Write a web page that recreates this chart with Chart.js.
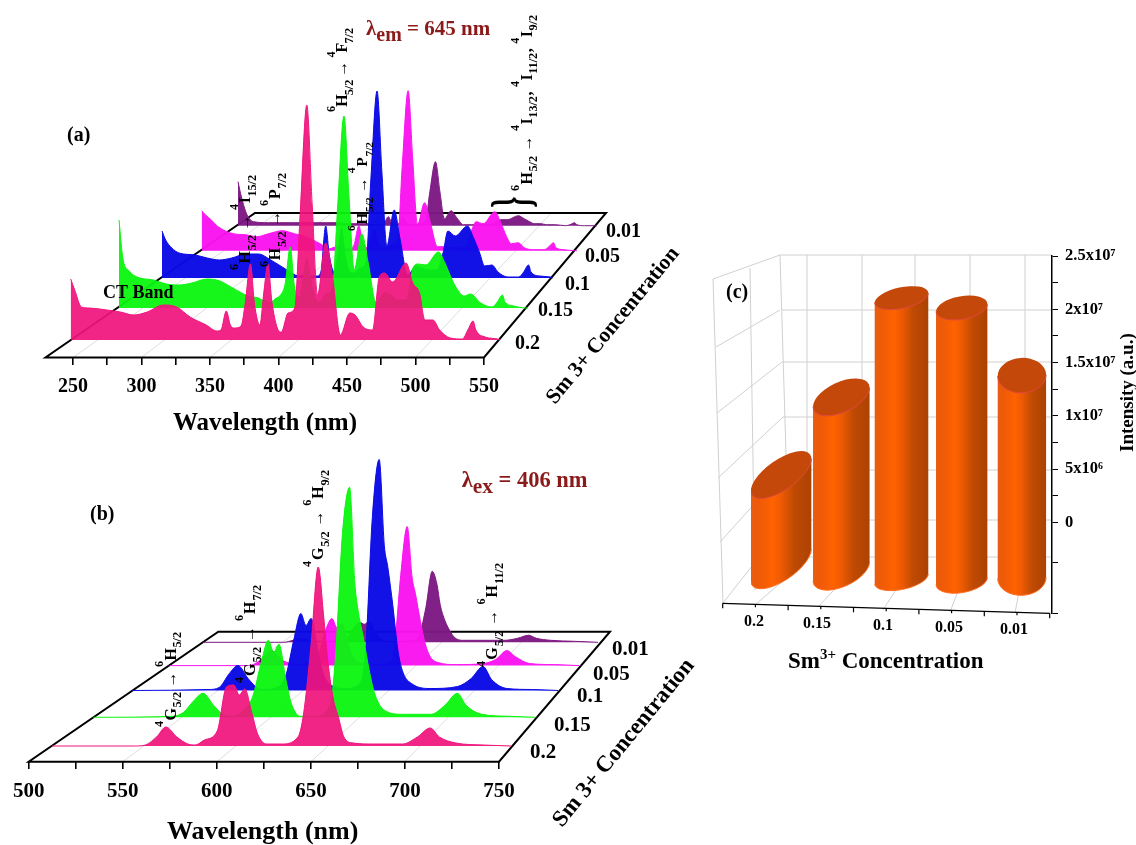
<!DOCTYPE html>
<html><head><meta charset="utf-8">
<style>html,body{margin:0;padding:0;background:#fff;overflow:hidden}
canvas{position:absolute;left:0;top:0}</style>
<script src="https://cdn.jsdelivr.net/npm/chart.js@4"></script>
</head><body>
<canvas id="spectra" width="1136" height="845"></canvas>
<canvas id="bars" width="1136" height="845"></canvas>
<script>
// ---------- DATA ----------
const concentrations = ['0.2','0.15','0.1','0.05','0.01'];
// panel (a): excitation spectra
const lambdaA = [230,233,238,244,257,267,277,287,299,309,319,331,339,342,346,349,352,357,360,364,367,371,374,377,380,384,387,392,397,401,406,410,414,420,425,431,438,442,448,455,460,464,470,480,485,490,494,500,505,513,522,526,530,532,539,548,550];
const excite_02  = [61,50,33,32,30,28,25,28,35,33,23,15,9,10,29,15,12,14,36,76,36,15,48,76,38,12,8,27,32,125,235,135,45,97,65,5,27,25,13,10,63,67,58,77,57,47,20,20,10,2,1,10,19,10,3,1,0];
const excite_015 = [88,50,37,31,28,24,23,25,29,27,20,12,10,8,7,6,9,14,24,61,24,10,28,50,28,8,6,14,20,100,192,110,38,74,45,6,15,14,8,8,40,44,43,56,45,30,20,12,14,5,1,6,13,6,2,0,0];
const excite_01  = [47,38,30,25,23,20,18,20,24,24,18,9,3,2,3,2,2,2,6,52,22,6,25,50,22,6,5,10,16,100,187,105,32,68,38,3,12,10,8,8,25,47,42,52,40,25,12,13,6,1,1,6,13,6,2,1,0];
const excite_005 = [40,36,31,24,17,16,14,17,20,17,14,7,2,3,4,2,2,2,6,25,10,3,12,22,10,3,3,6,10,85,160,90,26,48,28,4,4,3,3,3,20,29,27,39,28,14,7,8,3,1,1,4,8,3,1,0,0];
const excite_001 = [44,29,11,4,3,3,3,3,3,3,3,2,2,2,2,1,1,1,2,9,3,1,3,8,3,1,1,2,4,34,64,34,7,15,8,1,1,1,1,1,4,6,6,10,7,4,2,2,1,1,0,1,3,1,0,0,0];
const ticksA = [250,275,300,325,350,375,400,425,450,475,500,525,550];
// panel (b): emission spectra
const lambdaB = [500,545,551,557,562,568,574,578,583,590,595,599,602,605,609,612,617,625,634,637,641,645,648,650,653,656,659,664,675,691,699,706,711,720,735,750];
const emit_02  = [0,0,1,9,19,9,2,1,6,15,59,61,51,57,32,12,2,2,9,32,99,179,129,89,49,29,9,3,2,2,9,18,9,3,1,0];
const emit_015 = [0,1,5,17,24,12,2,1,4,20,55,77,65,73,37,14,1,1,12,60,184,230,134,105,78,48,25,8,3,3,12,24,12,3,1,0];
const emit_01  = [0,1,3,17,25,12,2,1,2,14,52,77,65,72,40,18,5,2,8,40,174,231,145,124,85,40,18,7,2,4,12,24,11,2,1,0];
const emit_005 = [0,0,1,8,15,6,2,1,2,8,35,47,38,42,20,8,2,1,3,15,90,139,88,72,45,22,9,3,1,2,6,15,9,2,1,0];
const emit_001 = [0,0,0,2,4,2,1,1,1,3,14,20,18,21,10,4,1,1,2,8,35,71,58,38,22,12,5,2,2,2,4,7,4,2,1,0];
const ticksB = [500,525,550,575,600,625,650,675,700,725,750];
// panel (c): integrated intensity, cylinder base and top read on the axis
const cylinderBase = [-4.0e6,-4.6e6,-5.3e6,-5.5e6,-5.2e6];
const cylinderTop  = [4.47e6,11.76e6,21.07e6,20.14e6,13.8e6];
const intensityTicks  = [2.5e7,2.25e7,2e7,1.75e7,1.5e7,1.25e7,1e7,7.5e6,5e6,2.5e6,0,-3.8e6,-8.5e6];
const intensityLabels = ['2.5x10⁷','','2x10⁷','','1.5x10⁷','','1x10⁷','','5x10⁶','','0','',''];

// ---------- STYLE / LAYOUT ----------
const W=1136,H=845,SERIF='"Liberation Serif"';
const colours=['rgba(240,20,125,.93)','rgba(10,245,15,.95)','rgba(10,10,230,.97)','rgba(250,20,240,.97)','rgba(125,25,130,.97)'];
const solid=['#f0147d','#0af50f','#0a0ae6','#fa14f0','#7d1982'];
const planesA=[{y:340,x0:70.7,x1:500},{y:308,x0:119,x1:528},{y:278,x0:162,x1:553},{y:250.7,x0:201.7,x1:577},{y:225.7,x0:238,x1:597}];
const planesB=[{y:746,x0:52,x1:511},{y:717.3,x0:93.5,x1:535},{y:690.5,x0:132.3,x1:558},{y:665.6,x0:170,x1:579},{y:642.3,x0:203.3,x1:598}];
const floorA={front:{y:357.5,x0:45.5,x1:484},back:{y:213,x0:255,x1:606}};
const floorB={front:{y:761.7,x0:28.7,x1:499},back:{y:631.7,x0:218.3,x1:610}};

function xRange(v0,v1,p0,p1){const k=(v1-v0)/(p1-p0);return {min:v0-p0*k,max:v0+(W-p0)*k};}
function yRange(base){return {min:-(H-base),max:base};}
function hidden(r){return Object.assign({type:'linear',display:false},r);}
function frontAxis(r,py,vals,size,pad){return Object.assign({type:'linear',position:{yPage:py},
  border:{display:false},
  grid:{drawOnChartArea:false,drawTicks:true,tickLength:7,color:'#000',lineWidth:1.6},
  ticks:{autoSkip:false,maxRotation:0,color:'#000',padding:pad,font:{family:SERIF,weight:'bold',size:size},
    callback:v=>v%50===0?String(v):''},
  afterBuildTicks:s=>{s.ticks=vals.map(v=>({value:v}));}},r);}

const scales={yPage:{type:'linear',display:false,min:0,max:H,reverse:true}};
const datasets=[];
function addTraces(tag,lam,series,planes){
  const a=lam[0],b=lam[lam.length-1];
  series.forEach((vals,i)=>{
    const p=planes[i];
    scales['x'+tag+i]=hidden(xRange(a,b,p.x0,p.x1));
    scales['y'+tag+i]=hidden(yRange(p.y));
    datasets.push({type:'line',label:concentrations[i],xAxisID:'x'+tag+i,yAxisID:'y'+tag+i,
      data:lam.map((l,j)=>({x:l,y:vals[j]})),fill:'origin',backgroundColor:colours[i],borderColor:solid[i],
      borderWidth:1,pointRadius:0,cubicInterpolationMode:'monotone'});
  });
}
addTraces('a',lambdaA,[excite_02,excite_015,excite_01,excite_005,excite_001],planesA);
addTraces('b',lambdaB,[emit_02,emit_015,emit_01,emit_005,emit_001],planesB);
scales.xaBack=hidden(xRange(230,550,floorA.back.x0,floorA.back.x1));
scales.xbBack=hidden(xRange(500,750,floorB.back.x0,floorB.back.x1));
scales.xaFront=frontAxis(xRange(230,550,floorA.front.x0,floorA.front.x1),floorA.front.y,ticksA,20,10);
scales.xbFront=frontAxis(xRange(500,750,floorB.front.x0,floorB.front.x1),floorB.front.y,ticksB,21,10.5);

// ---------- TEXT HELPER: ^{sup} _{sub} ----------
function parseRuns(t){const out=[];const re=/\^\{([^}]*)\}|_\{([^}]*)\}|([^\^_]+)/g;let m;
  while((m=re.exec(t))){if(m[1]!==undefined)out.push([m[1],'sup']);else if(m[2]!==undefined)out.push([m[2],'sub']);else out.push([m[3],'']);}
  return out;}
function drawRich(ctx,o){
  const size=o.size,small=size*(o.ratio||0.76),runs=parseRuns(o.text);
  const font=k=>'bold '+(k?small:size)+'px '+SERIF;
  let total=0;runs.forEach(r=>{ctx.font=font(r[1]);r[2]=ctx.measureText(r[0]).width;total+=r[2];});
  const extra=o.len?(o.len-total)/Math.max(1,runs.length-1):0;
  ctx.save();ctx.translate(o.x,o.y);ctx.rotate((o.rot||0)*Math.PI/180);
  ctx.fillStyle=o.color||'#000';ctx.textBaseline='alphabetic';ctx.textAlign='left';
  let x=0;runs.forEach(r=>{ctx.font=font(r[1]);
    const dy=r[1]==='sup'?-(o.supShift||0.77)*size:r[1]==='sub'?(o.subShift||0.37)*size:0;
    ctx.fillText(r[0],x,dy);x+=r[2]+extra;});
  ctx.restore();
}
const annotationsA=[
 {text:'^{6}H_{5/2} → ^{4}I_{15/2}',x:250,y:270,len:95,size:16,rot:-90},
 {text:'^{6}H_{5/2} → ^{6}P_{7/2}',x:280,y:267,len:94,size:16,rot:-90},
 {text:'^{6}H_{5/2} → ^{4}F_{7/2}',x:347,y:112,len:84,size:16,rot:-90},
 {text:'^{6}H_{5/2} → ^{4}P_{7/2}',x:367,y:231,len:89,size:15,rot:-90},
 {text:'^{6}H_{5/2} → ^{4}I_{13/2}, ^{4}I_{11/2}, ^{4}I_{9/2}',x:531.5,y:191,len:176,size:16,rot:-90},
 {text:'(a)',x:67,y:141,size:20},
 {text:'CT Band',x:103,y:298,size:18,len:72},
 {text:'λ_{em} = 645 nm',x:366,y:35,size:21,ratio:.95,subShift:.3,color:'#8b1a1a'},
 {text:'Wavelength (nm)',x:173,y:430,size:25},
 {text:'Sm 3+ Concentration',x:555,y:405,size:21.5,rot:-50.5},
];
const annotationsB=[
 {text:'^{4}G_{5/2} → ^{6}H_{5/2}',x:175.5,y:727,len:95,size:16,rot:-90},
 {text:'^{4}G_{5/2} → ^{6}H_{7/2}',x:255,y:683,len:98,size:16,rot:-90},
 {text:'^{4}G_{5/2} → ^{6}H_{9/2}',x:323,y:567,len:97,size:16,rot:-90},
 {text:'^{4}G_{5/2} → ^{6}H_{11/2}',x:497,y:667,len:104,size:16,rot:-90},
 {text:'(b)',x:90,y:520,size:20},
 {text:'λ_{ex} = 406 nm',x:461.7,y:486.7,size:22.5,ratio:.95,subShift:.3,color:'#8b1a1a'},
 {text:'Wavelength (nm)',x:167,y:839,size:26},
 {text:'Sm 3+ Concentration',x:562,y:828,size:23,rot:-50.7},
];
const concPosA=[[515,349],[538,316],[565,290],[585,262],[606,237]];
const concPosB=[[530,758],[554,731],[577,702],[593,680],[612,655]];
const concPosC=[[744,626],[803,628],[873,630],[935,632],[1000,634]];
const panelCText=[
 {text:'(c)',x:726,y:298,size:20},
 {text:'Sm^{3+} Concentration',x:788,y:668,size:23,supShift:.38,ratio:.65},
 {text:'Intensity (a.u.)',x:1133,y:452,size:19,rot:-90},
];

// ---------- PLUGINS ----------
function drawFloor(chart,fl,fs,bs,lam0,lam1,grid){
  const c=chart.ctx,f=chart.scales[fs],b=chart.scales[bs];
  c.save();c.strokeStyle='#dedede';c.lineWidth=1;
  grid.forEach(v=>{c.beginPath();c.moveTo(f.getPixelForValue(v),fl.front.y);c.lineTo(b.getPixelForValue(v),fl.back.y);c.stroke();});
  c.strokeStyle='#000';c.lineWidth=2;c.lineJoin='miter';c.beginPath();
  c.moveTo(f.getPixelForValue(lam0),fl.front.y);c.lineTo(f.getPixelForValue(lam1),fl.front.y);
  c.lineTo(b.getPixelForValue(lam1),fl.back.y);c.lineTo(b.getPixelForValue(lam0),fl.back.y);c.closePath();c.stroke();
  c.restore();
}
const spectraDecor={id:'spectraDecor',
  beforeDatasetsDraw(chart){
    drawFloor(chart,floorA,'xaFront','xaBack',230,550,[250,300,350,400,450,500]);
    drawFloor(chart,floorB,'xbFront','xbBack',500,750,[550,600,650,700]);
  },
  afterDatasetsDraw(chart){
    const c=chart.ctx;
    annotationsA.concat(annotationsB).forEach(a=>drawRich(c,a));
    concentrations.forEach((t,i)=>{
      drawRich(c,{text:t,x:concPosA[i][0],y:concPosA[i][1],size:20});
      drawRich(c,{text:t,x:concPosB[i][0],y:concPosB[i][1],size:21});
    });
    c.save();c.translate(513.5,202);c.rotate(Math.PI/2);c.scale(.62,1.18);c.font='bold 46px '+SERIF;
    c.fillStyle='#000';c.textAlign='center';c.textBaseline='middle';c.fillText('{',0,0);c.restore();
  }};
const wallDecor={id:'wallDecor',
  beforeDatasetsDraw(chart){
    const c=chart.ctx;c.save();c.strokeStyle='#d0d0d0';c.lineWidth=1;
    const seg=(a,b,d,e)=>{c.beginPath();c.moveTo(a,b);c.lineTo(d,e);c.stroke();};
    [[255,780],[310,781],[362,782],[417,783],[470,785],[520,787],[557,790]].forEach(h=>seg(h[1],h[0],1051,h[0]));
    [[807,255,807,560],[862,255,862,560],[915,255,915,560],[970,255,970,560],[1025,255,1025,560]].forEach(l=>seg(...l));
    seg(780,255,713,279);seg(713,279,723,603);seg(780,255,788,520);
    seg(780,310,716,347);seg(782,362,717,413);seg(783,417,718,478);seg(785,470,720,542);seg(750,268,755,590);
    seg(723,603,788,520);seg(755,605,807,560);seg(818,607,862,560);seg(883,610,915,560);seg(950,612,970,560);seg(1015,613,1025,560);
    c.strokeStyle='#000';c.lineWidth=1.2;seg(722.7,603.3,1050,613.3);
    for(let k=0;k<11;k++){const x=722.7+k*32.7,y=603.3+k*1;seg(x,y,x,y+(k%2?3:5));}
    c.restore();
  },
  afterDatasetsDraw(chart){
    const c=chart.ctx;panelCText.forEach(a=>drawRich(c,a));
    concentrations.forEach((t,i)=>drawRich(c,{text:t,x:concPosC[i][0],y:concPosC[i][1],size:16}));
  }};

// ---------- CYLINDER BAR ELEMENT ----------
const capLong=[35.4,30.4,27.3,26,24.2];
const capShort=[15,15,10.5,11.5,17.5];
const capTilt=[-35,-25,-12,-10,-3];
class CylinderElement extends Chart.BarElement{
  static id='cylinder';
  draw(ctx){
    const i=this.capIndex,a=capLong[i],b=capShort[i],r=capTilt[i]*Math.PI/180;
    const cx=this.x,top=this.y,base=this.base;
    const t0=Math.atan2(-b*Math.sin(r),a*Math.cos(r));
    const X=a*Math.cos(t0)*Math.cos(r)-b*Math.sin(t0)*Math.sin(r);
    const Y=a*Math.cos(t0)*Math.sin(r)+b*Math.sin(t0)*Math.cos(r);
    const g=ctx.createLinearGradient(cx-X,0,cx+X,0);
    g.addColorStop(0,'#e85c10');g.addColorStop(.12,'#ee5a08');g.addColorStop(.36,'#ff6200');g.addColorStop(.5,'#ee5a02');
    g.addColorStop(.72,'#bf4a04');g.addColorStop(1,'#ac4202');
    ctx.save();ctx.fillStyle=g;ctx.beginPath();
    ctx.moveTo(cx+X,top+Y);ctx.lineTo(cx+X,base+Y);
    ctx.ellipse(cx,base,a,b,r,t0,t0+Math.PI,false);
    ctx.lineTo(cx-X,top-Y);ctx.closePath();ctx.fill();
    ctx.beginPath();ctx.ellipse(cx,top,a,b,r,0,Math.PI*2);ctx.fillStyle='#c4480a';ctx.fill();
    ctx.beginPath();ctx.ellipse(cx,top,a,b,r,t0,t0+Math.PI,false);ctx.strokeStyle='#e0483c';ctx.lineWidth=1;ctx.stroke();
    ctx.beginPath();ctx.ellipse(cx,base,a,b,r,t0,t0+Math.PI,false);ctx.strokeStyle='#ff6e20';ctx.lineWidth=1;ctx.stroke();
    ctx.restore();
  }
}
class CylinderController extends Chart.BarController{
  static id='cylinder';
  static defaults=Object.assign({},Chart.BarController.defaults,{dataElementType:'cylinder'});
  static overrides=Chart.BarController.overrides;
  draw(){this._cachedMeta.data.forEach((e,i)=>{e.capIndex=i;});super.draw();}
}
Chart.register(CylinderElement,CylinderController);

// ---------- CHARTS ----------
const noUi={legend:{display:false},tooltip:{enabled:false},title:{display:false}};
new Chart(document.getElementById('spectra'),{
  type:'line',
  data:{datasets},
  options:{responsive:false,animation:false,layout:{padding:0},plugins:noUi,scales},
  plugins:[spectraDecor]
});
new Chart(document.getElementById('bars'),{
  type:'cylinder',
  data:{labels:concentrations,datasets:[{label:'Intensity',data:cylinderBase.map((b,i)=>[b,cylinderTop[i]]),backgroundColor:'#ff6200'}]},
  options:{responsive:false,animation:false,
    layout:{padding:{left:751,right:4,top:256,bottom:232}},plugins:noUi,
    scales:{
      x:{display:false,offset:true},
      y:{position:'right',min:-8.5e6,max:2.5e7,
        border:{display:true,color:'#000',width:1.5},
        grid:{drawOnChartArea:false,drawTicks:true,tickLength:6,color:'#000'},
        ticks:{autoSkip:false,color:'#000',padding:7,font:{family:SERIF,weight:'bold',size:16.5},
          callback:v=>intensityLabels[intensityTicks.indexOf(v)]},
        afterBuildTicks:s=>{s.ticks=intensityTicks.map(v=>({value:v}));},
        afterFit:s=>{s.width=80;}
      }
    }},
  plugins:[wallDecor]
});
</script>
</body></html>
